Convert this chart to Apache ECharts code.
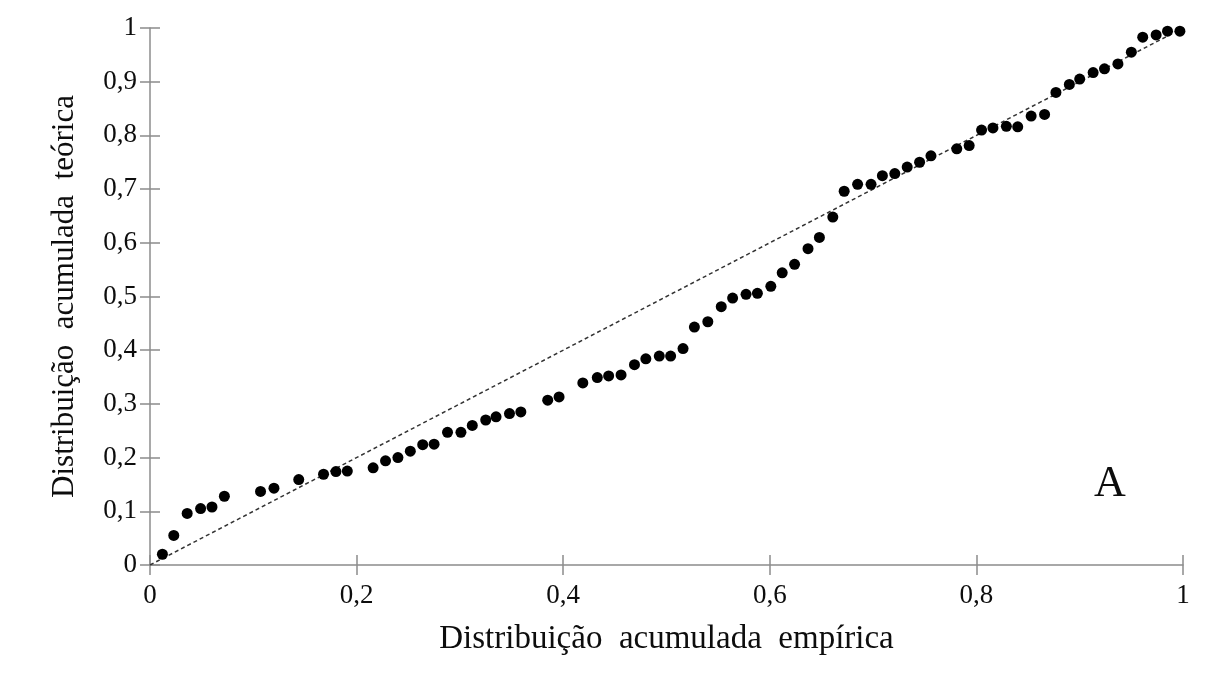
<!DOCTYPE html>
<html>
<head>
<meta charset="utf-8">
<style>
  html, body { margin: 0; padding: 0; background: #ffffff; }
  #chart { width: 1224px; height: 693px; }
</style>
<script src="https://cdn.jsdelivr.net/npm/echarts@6/dist/echarts.min.js"></script>
</head>
<body>
<div id="chart"></div>
<script>
// Empirical vs theoretical cumulative distribution (P-P plot)
const empirica = [
  0.012, 0.023, 0.036, 0.049, 0.060, 0.072, 0.107, 0.120, 0.144, 0.168,
  0.180, 0.191, 0.216, 0.228, 0.240, 0.252, 0.264, 0.275, 0.288, 0.301,
  0.312, 0.325, 0.335, 0.348, 0.359, 0.385, 0.396, 0.419, 0.433, 0.444,
  0.456, 0.469, 0.480, 0.493, 0.504, 0.516, 0.527, 0.540, 0.553, 0.564,
  0.577, 0.588, 0.601, 0.612, 0.624, 0.637, 0.648, 0.661, 0.672, 0.685,
  0.698, 0.709, 0.721, 0.733, 0.745, 0.756, 0.781, 0.793, 0.805, 0.816,
  0.829, 0.840, 0.853, 0.866, 0.877, 0.890, 0.900, 0.913, 0.924, 0.937,
  0.950, 0.961, 0.974, 0.985, 0.997
];
const teorica = [
  0.020, 0.055, 0.096, 0.105, 0.108, 0.128, 0.137, 0.143, 0.159, 0.169,
  0.174, 0.175, 0.181, 0.194, 0.200, 0.212, 0.224, 0.225, 0.247, 0.247,
  0.260, 0.270, 0.276, 0.282, 0.285, 0.307, 0.313, 0.339, 0.349, 0.352,
  0.354, 0.373, 0.384, 0.389, 0.389, 0.403, 0.443, 0.453, 0.481, 0.497,
  0.504, 0.506, 0.519, 0.544, 0.560, 0.589, 0.610, 0.648, 0.696, 0.709,
  0.709, 0.725, 0.729, 0.741, 0.750, 0.762, 0.775, 0.781, 0.810, 0.814,
  0.817, 0.816, 0.836, 0.839, 0.880, 0.895, 0.905, 0.917, 0.924, 0.933,
  0.955, 0.983, 0.987, 0.994, 0.994
];
// 1:1 reference line
const refLineX = [0, 1];
const refLineY = [0, 1];

const xTitle = 'Distribuição  acumulada  empírica';
const yTitle = 'Distribuição  acumulada  teórica';
const panelLabel = 'A';

const SERIF = '"Liberation Serif", "DejaVu Serif", serif';
const AXIS_COLOR = '#8c8c8c';
const TEXT_COLOR = '#0d0d0d';

function fmt(v) {
  if (Math.abs(v) < 1e-9) return '0';
  if (Math.abs(v - 1) < 1e-9) return '1';
  return v.toFixed(1).replace('.', ',');
}

const points = empirica.map((x, i) => [x, teorica[i]]);
const refLine = refLineX.map((x, i) => [x, refLineY[i]]);

const chart = echarts.init(document.getElementById('chart'), null, { renderer: 'canvas' });

const baseAxis = {
  type: 'value', min: 0, max: 1,
  splitLine: { show: false },
  axisLine: { show: true, lineStyle: { color: AXIS_COLOR, width: 1.5 } },
  axisTick: { show: true, length: 10, lineStyle: { color: AXIS_COLOR, width: 1.5 } }
};

chart.setOption({
  backgroundColor: '#ffffff',
  animation: false,
  grid: { left: 150, right: 41, top: 28, bottom: 128 },
  xAxis: [
    Object.assign({}, baseAxis, {
      interval: 0.2,
      name: xTitle,
      nameLocation: 'middle',
      nameGap: 58,
      nameTextStyle: { fontFamily: SERIF, fontSize: 33, color: TEXT_COLOR },
      axisLabel: { fontFamily: SERIF, fontSize: 27, color: TEXT_COLOR, margin: 17, formatter: fmt }
    }),
    Object.assign({}, baseAxis, {
      interval: 0.2, position: 'bottom',
      axisLine: { show: false },
      axisTick: { show: true, inside: true, length: 10, lineStyle: { color: AXIS_COLOR, width: 1.5 } },
      axisLabel: { show: false }
    })
  ],
  yAxis: [
    Object.assign({}, baseAxis, {
      interval: 0.1,
      name: yTitle,
      nameLocation: 'middle',
      nameGap: 70,
      nameTextStyle: { fontFamily: SERIF, fontSize: 31, color: TEXT_COLOR },
      axisLabel: { fontFamily: SERIF, fontSize: 27, color: TEXT_COLOR, margin: 13, formatter: fmt }
    }),
    Object.assign({}, baseAxis, {
      interval: 0.1, position: 'left',
      axisLine: { show: false },
      axisTick: { show: true, inside: true, length: 10, lineStyle: { color: AXIS_COLOR, width: 1.5 } },
      axisLabel: { show: false }
    })
  ],
  series: [
    {
      type: 'line',
      data: refLine,
      xAxisIndex: 0, yAxisIndex: 0,
      showSymbol: false,
      lineStyle: { color: '#333333', width: 1.5, type: [4, 3] },
      z: 1
    },
    {
      type: 'scatter',
      data: points,
      xAxisIndex: 0, yAxisIndex: 0,
      symbol: 'circle',
      symbolSize: 11,
      itemStyle: { color: '#000000', opacity: 1 },
      z: 2
    }
  ],
  graphic: [
    {
      type: 'text',
      left: 1094, top: 462,
      style: { text: panelLabel, fontFamily: SERIF, fontSize: 44, fill: TEXT_COLOR }
    }
  ]
});
</script>
</body>
</html>
